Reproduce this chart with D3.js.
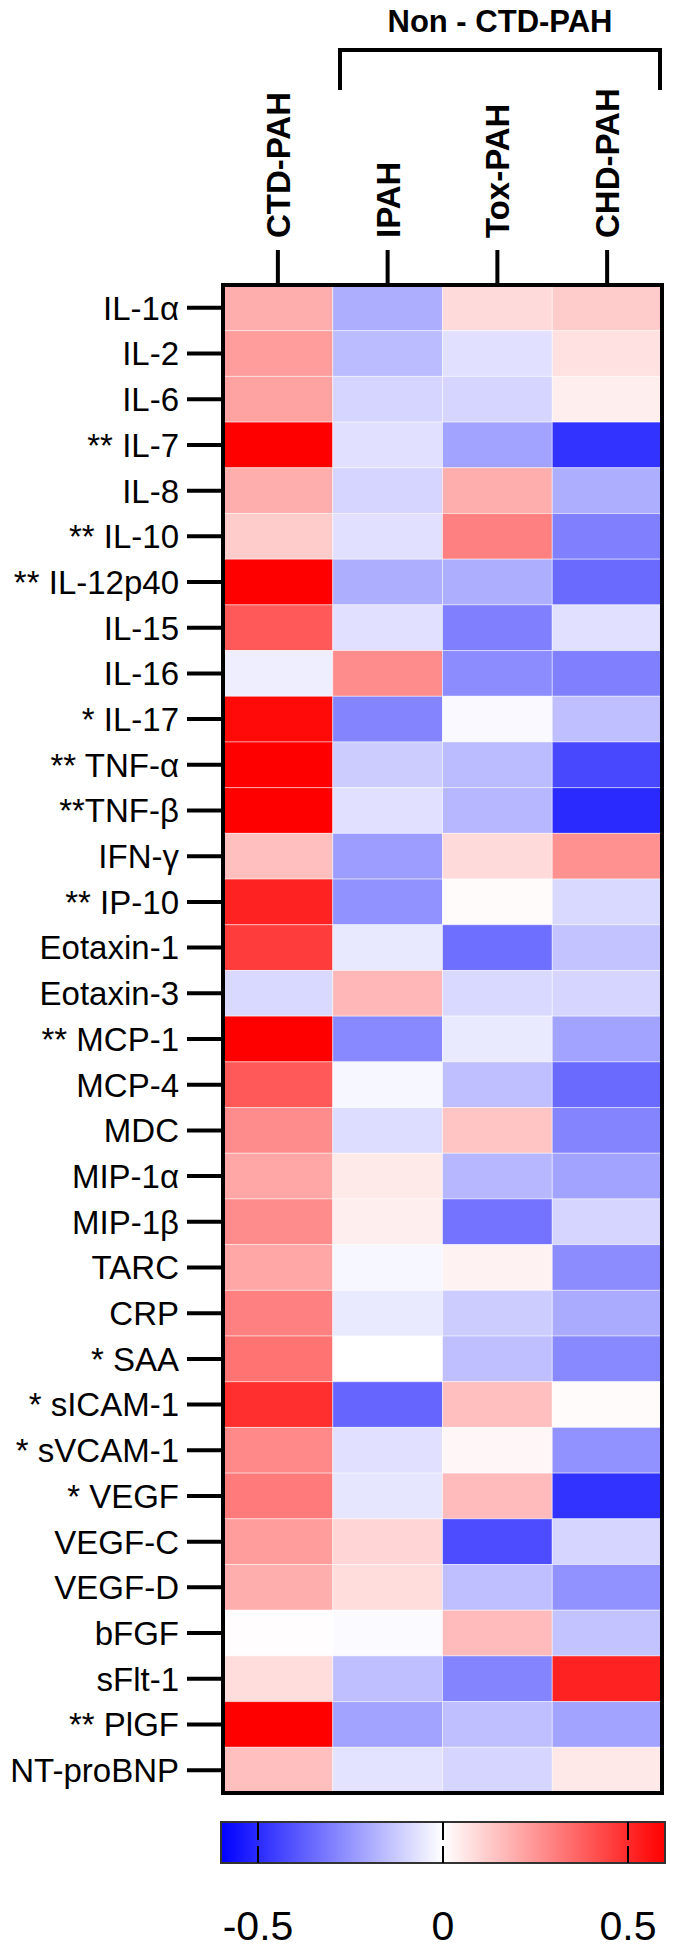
<!DOCTYPE html>
<html>
<head>
<meta charset="utf-8">
<script src="https://cdn.jsdelivr.net/npm/d3@7"></script>
<style>
  html, body { margin: 0; padding: 0; background: #fff; }
  text { font-family: "Liberation Sans", Arial, Helvetica, sans-serif; fill: #000; }
</style>
</head>
<body>
<svg id="chart" width="673" height="1950"></svg>
<script>
// groups along the top
var groups = ['CTD-PAH', 'IPAH', 'Tox-PAH', 'CHD-PAH'];

// row labels, top to bottom (stars = significance marks)
var markers = [
    'IL-1\u03b1', 'IL-2', 'IL-6', '** IL-7', 'IL-8', '** IL-10', '** IL-12p40', 'IL-15',
    'IL-16', '* IL-17', '** TNF-\u03b1', '**TNF-\u03b2', 'IFN-\u03b3', '** IP-10', 'Eotaxin-1',
    'Eotaxin-3', '** MCP-1', 'MCP-4', 'MDC', 'MIP-1\u03b1', 'MIP-1\u03b2', 'TARC', 'CRP',
    '* SAA', '* sICAM-1', '* sVCAM-1', '* VEGF', 'VEGF-C', 'VEGF-D', 'bFGF', 'sFlt-1',
    '** PlGF', 'NT-proBNP'
];

// one array per group, same order as markers
var ctdPah = [0.19, 0.23, 0.22, 0.60, 0.19, 0.12, 0.60, 0.39, -0.04, 0.58, 0.60, 0.60, 0.15,
    0.52, 0.46, -0.09, 0.60, 0.39, 0.27, 0.21, 0.27, 0.21, 0.30, 0.33, 0.49, 0.28, 0.31,
    0.23, 0.19, 0.005, 0.08, 0.60, 0.15];
var ipah = [-0.19, -0.16, -0.10, -0.07, -0.10, -0.07, -0.19, -0.07, 0.27, -0.29, -0.12,
    -0.07, -0.23, -0.26, -0.055, 0.17, -0.28, -0.02, -0.08, 0.05, 0.04, -0.02, -0.05, 0.0,
    -0.36, -0.07, -0.06, 0.10, 0.08, -0.01, -0.15, -0.22, -0.065];
var toxPah = [0.087, -0.07, -0.10, -0.22, 0.19, 0.30, -0.19, -0.30, -0.27, -0.015, -0.16,
    -0.17, 0.087, 0.01, -0.34, -0.09, -0.05, -0.15, 0.14, -0.17, -0.33, 0.03, -0.12, -0.15,
    0.15, 0.02, 0.16, -0.42, -0.15, 0.16, -0.29, -0.15, -0.10];
var chdPah = [0.12, 0.07, 0.04, -0.48, -0.19, -0.30, -0.35, -0.07, -0.30, -0.15, -0.43,
    -0.50, 0.26, -0.09, -0.14, -0.10, -0.22, -0.35, -0.29, -0.22, -0.10, -0.27, -0.20, -0.28,
    0.01, -0.26, -0.48, -0.10, -0.26, -0.14, 0.52, -0.22, 0.055];

var legendTicks = [-0.5, 0, 0.5];
var legendLabels = ['-0.5', '0', '0.5'];

(function() {
    var svg = d3.select('#chart');
    var series = [ctdPah, ipah, toxPah, chdPah];

    var cells = [];
    markers.forEach(function(m, i) {
        groups.forEach(function(g, j) {
            cells.push({ row: m, col: g, value: series[j][i] });
        });
    });

    // plot box
    var left = 223, right = 662, top = 285, bottom = 1793;

    var x = d3.scaleBand().domain(groups).range([left, right]);
    var y = d3.scaleBand().domain(markers).range([top, bottom]);
    var color = d3.scaleLinear()
        .domain([-0.6, 0, 0.6])
        .range(['#0000ff', '#ffffff', '#ff0000'])
        .clamp(true);

    svg.append('g')
        .selectAll('rect')
        .data(cells)
        .join('rect')
        .attr('x', function(d) { return x(d.col); })
        .attr('y', function(d) { return y(d.row); })
        .attr('width', x.bandwidth())
        .attr('height', y.bandwidth())
        .attr('fill', function(d) { return color(d.value); })
        .attr('stroke', '#fff')
        .attr('stroke-opacity', 0.45)
        .attr('stroke-width', 1);

    svg.append('rect')
        .attr('x', left).attr('y', top)
        .attr('width', right - left).attr('height', bottom - top)
        .attr('fill', 'none')
        .attr('stroke', '#000')
        .attr('stroke-width', 4);

    // row axis
    var yAxis = d3.axisLeft(y).tickSize(34).tickPadding(8);
    var gy = svg.append('g').attr('transform', 'translate(' + (left - 2) + ',0)').call(yAxis);
    gy.select('.domain').remove();
    gy.selectAll('.tick line').attr('stroke', '#000').attr('stroke-width', 4);
    gy.selectAll('.tick text')
        .attr('font-size', 33)
        .attr('font-family', '"Liberation Sans", Arial, sans-serif')
        .attr('fill', '#000')
        .attr('dy', '0.36em');

    // column axis
    var xAxis = d3.axisTop(x).tickSize(33).tickPadding(12);
    var gx = svg.append('g').attr('transform', 'translate(0,' + (top - 2) + ')').call(xAxis);
    gx.select('.domain').remove();
    gx.selectAll('.tick line').attr('stroke', '#000').attr('stroke-width', 4);
    gx.selectAll('.tick text')
        .attr('font-size', 33)
        .attr('font-weight', 'bold')
        .attr('font-family', '"Liberation Sans", Arial, sans-serif')
        .attr('fill', '#000')
        .attr('text-anchor', 'start')
        .attr('transform', 'rotate(-90)')
        .attr('x', 45)
        .attr('y', 0)
        .attr('dy', '0.36em');

    // bracket over the non CTD groups
    var bx0 = 340, bx1 = 660, by = 50, byEnd = 90;
    svg.append('path')
        .attr('d', 'M' + bx0 + ',' + byEnd + 'V' + by + 'H' + bx1 + 'V' + byEnd)
        .attr('fill', 'none')
        .attr('stroke', '#000')
        .attr('stroke-width', 4);
    svg.append('text')
        .attr('x', (bx0 + bx1) / 2)
        .attr('y', 32)
        .attr('text-anchor', 'middle')
        .attr('font-size', 31)
        .attr('font-weight', 'bold')
        .text('Non - CTD-PAH');

    // colour legend
    var lx0 = 221, lx1 = 665, ly0 = 1822, ly1 = 1863;
    var lscale = d3.scaleLinear().domain([-0.6, 0.6]).range([lx0, lx1]);

    var grad = svg.append('defs').append('linearGradient')
        .attr('id', 'legendGrad')
        .attr('x1', '0%').attr('x2', '100%').attr('y1', '0%').attr('y2', '0%');
    grad.selectAll('stop')
        .data(color.domain())
        .join('stop')
        .attr('offset', function(d) { return (lscale(d) - lx0) / (lx1 - lx0); })
        .attr('stop-color', function(d) { return color(d); });

    svg.append('rect')
        .attr('x', lx0).attr('y', ly0)
        .attr('width', lx1 - lx0).attr('height', ly1 - ly0)
        .attr('fill', 'url(#legendGrad)')
        .attr('stroke', '#333')
        .attr('stroke-width', 2);

    var lt = svg.append('g').selectAll('g')
        .data(legendTicks)
        .join('g')
        .attr('transform', function(d) { return 'translate(' + lscale(d) + ',0)'; });
    lt.append('line')
        .attr('y1', ly0).attr('y2', ly0 + 18)
        .attr('stroke', '#000').attr('stroke-width', 2);
    lt.append('line')
        .attr('y1', ly1 - 17).attr('y2', ly1)
        .attr('stroke', '#000').attr('stroke-width', 2);
    lt.append('text')
        .attr('y', 1940)
        .attr('text-anchor', 'middle')
        .attr('font-size', 41)
        .text(function(d, i) { return legendLabels[i]; });
}());
</script>
</body>
</html>
